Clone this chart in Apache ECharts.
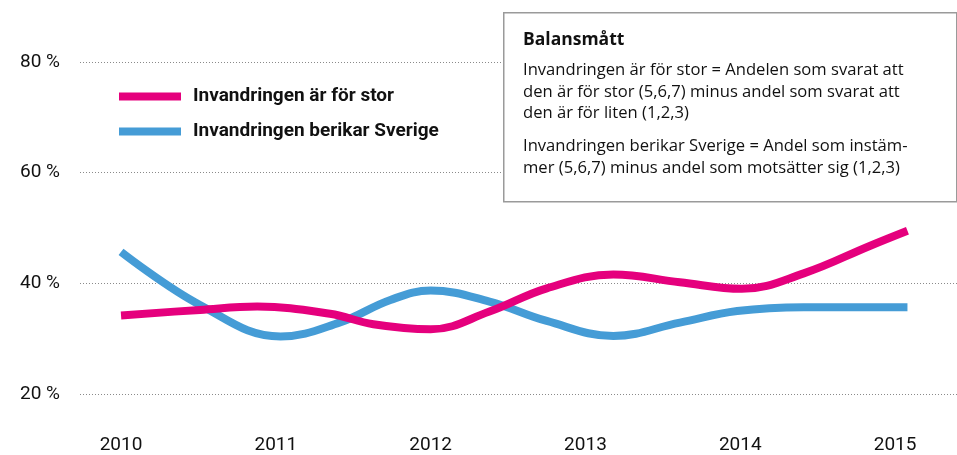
<!DOCTYPE html>
<html>
<head>
<meta charset="utf-8">
<script src="https://cdn.jsdelivr.net/npm/echarts@6/dist/echarts.min.js"></script>
<style>
  html, body { margin: 0; padding: 0; background: #fff; }
  #chart { width: 957px; height: 455px; }
</style>
</head>
<body>
<div id="chart"></div>
<script>
// årtal på x-axeln
var yearLabels = [2010, 2011, 2012, 2013, 2014, 2015]
// y-axelns skala (procent)
var yMin = 20
var yMax = 80
var yStep = 20

// Invandringen är för stor
var storYears = [2010.0, 2010.51, 2010.88, 2011.35, 2011.63, 2012.0, 2012.38, 2012.75, 2013.18, 2013.61, 2014.01, 2014.41, 2014.84, 2015.08]
var storValues = [34.2, 35.2, 35.8, 34.5, 32.6, 31.7, 34.9, 39.1, 41.6, 40.2, 39.0, 41.8, 46.8, 49.5]

// Invandringen berikar Sverige
var berikarYears = [2010.0, 2010.51, 2011.03, 2011.41, 2011.74, 2012.0, 2012.38, 2012.75, 2013.18, 2013.61, 2013.98, 2014.41, 2015.08]
var berikarValues = [45.7, 36.1, 30.4, 32.9, 37.0, 38.7, 36.7, 33.2, 30.5, 32.9, 35.0, 35.7, 35.7]

var nameStor = 'Invandringen är för stor'
var nameBerikar = 'Invandringen berikar Sverige'
var pink = '#e5007d'
var blue = '#459cd6'
var font = 'Roboto'
var boxFont = '"Open Sans"'

function pairs(xs, ys) {
  return xs.map(function (x, i) { return [x, ys[i]] })
}

var chart = echarts.init(document.getElementById('chart'), null, { renderer: 'canvas' })

chart.setOption({
  animation: false,
  textStyle: { fontFamily: font },
  grid: { left: 80, right: 0, top: 62, bottom: 56 },
  legend: {
    data: [nameStor, nameBerikar],
    orient: 'vertical',
    left: 114,
    top: 82,
    icon: 'rect',
    itemWidth: 62,
    itemHeight: 8,
    itemGap: 16,
    textStyle: {
      fontFamily: font,
      fontSize: 19,
      fontWeight: 'bold',
      color: '#111',
      padding: [0, 0, 0, 7]
    }
  },
  xAxis: {
    type: 'value',
    min: 2009.735,
    max: 2015.4,
    axisLine: { show: false },
    axisTick: { show: false },
    splitLine: { show: false },
    axisLabel: {
      customValues: yearLabels,
      margin: 42,
      fontSize: 19,
      color: '#111',
      formatter: function (v) { return String(Math.round(v)) }
    }
  },
  yAxis: {
    type: 'value',
    min: yMin,
    max: yMax,
    interval: yStep,
    axisLine: { show: false },
    axisTick: { show: false },
    axisLabel: {
      margin: 20,
      fontSize: 19,
      color: '#111',
      formatter: '{value} %'
    },
    splitLine: {
      lineStyle: { color: '#8a8a8a', width: 1, type: [1, 2] }
    }
  },
  series: [
    {
      name: nameBerikar,
      type: 'line',
      smooth: 0.4,
      showSymbol: false,
      color: blue,
      lineStyle: { color: blue, width: 8 },
      data: pairs(berikarYears, berikarValues)
    },
    {
      name: nameStor,
      type: 'line',
      smooth: 0.4,
      showSymbol: false,
      color: pink,
      lineStyle: { color: pink, width: 8 },
      data: pairs(storYears, storValues)
    }
  ],
  graphic: [
    {
      type: 'rect',
      left: 503,
      top: 12,
      shape: { width: 453, height: 189 },
      style: { fill: '#fff', stroke: '#9a9a9a', lineWidth: 1.5 },
      z: 100
    },
    {
      type: 'text', left: 523, top: 31, z: 101,
      style: { text: 'Balansmått', font: 'bold 17.5px ' + boxFont, fill: '#111' }
    },
    {
      type: 'text', left: 523, top: 60, z: 101,
      style: {
        text: 'Invandringen är för stor = Andelen som svarat att\nden är för stor (5,6,7) minus andel som svarat att\nden är för liten (1,2,3)',
        font: '16.6px ' + boxFont, lineHeight: 21.5, fill: '#111'
      }
    },
    {
      type: 'text', left: 523, top: 136, z: 101,
      style: {
        text: 'Invandringen berikar Sverige = Andel som instäm-\nmer (5,6,7) minus andel som motsätter sig (1,2,3)',
        font: '16.6px ' + boxFont, lineHeight: 21.5, fill: '#111'
      }
    }
  ]
})
</script>
</body>
</html>
